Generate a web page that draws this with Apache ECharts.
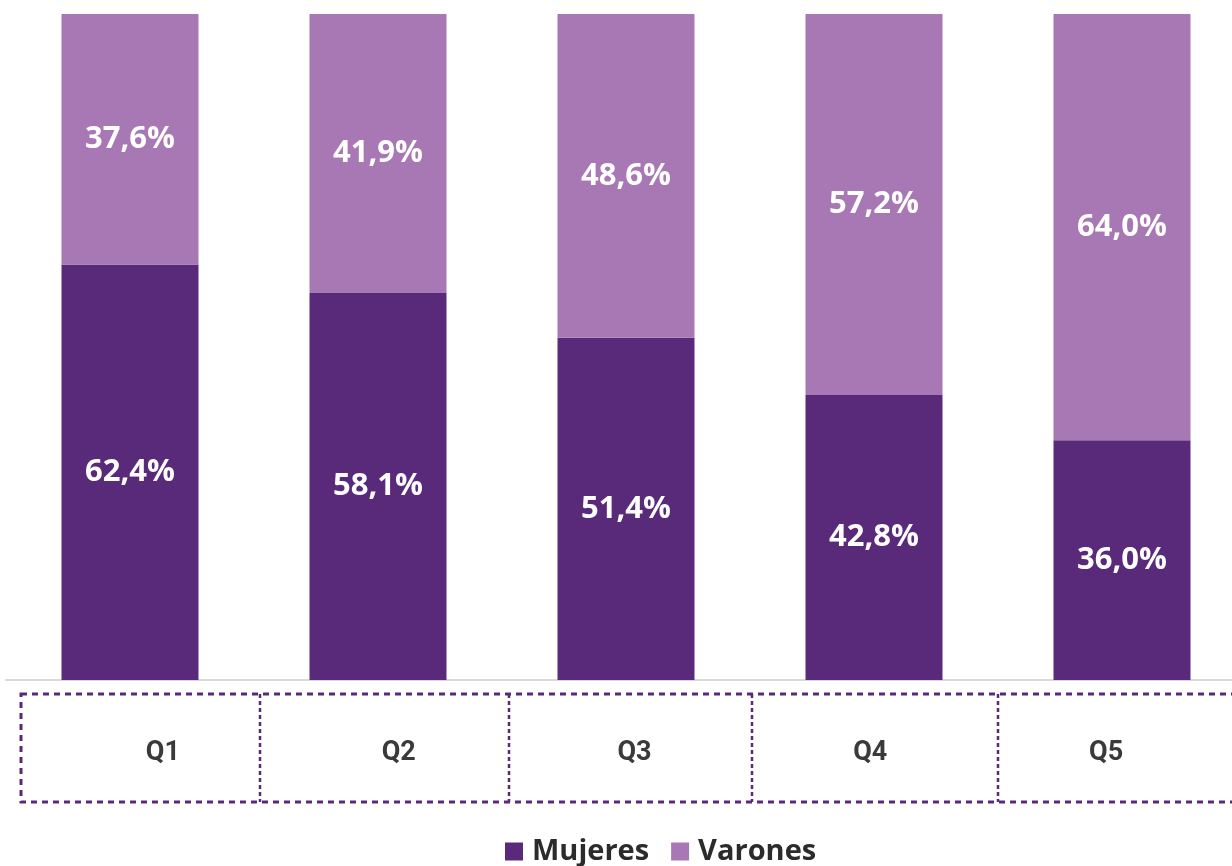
<!DOCTYPE html>
<html style="height: 100%;">
  <head>
    <meta charset="utf-8" />
    <script src="https://cdn.jsdelivr.net/npm/echarts/dist/echarts.min.js"></script>
  </head>
  <body style="height: 100%; margin: 0;">
    <div id="container" style="width: 1232px; height: 866px;"></div>
    <script type="text/javascript">
      var categories = ["Q1", "Q2", "Q3", "Q4", "Q5"];
      var mujeres = [62.4, 58.1, 51.4, 42.8, 36.0];
      var varones = [37.6, 41.9, 48.6, 57.2, 64.0];

      var dark = "#5a2a7a";
      var light = "#a878b5";
      var fontFam = "'Open Sans', sans-serif";

      function fmt(p) {
        return p.value.toFixed(1).replace(".", ",") + "%";
      }

      var labelStyle = {
        show: true,
        position: "inside",
        color: "#fff",
        fontSize: 31,
        fontWeight: "bold",
        fontFamily: fontFam,
        formatter: fmt,
      };

      var myChart = echarts.init(document.getElementById("container"));
      var option = {
        animation: false,
        legend: {
          top: 832,
          left: 500,
          icon: "rect",
          itemWidth: 18,
          itemHeight: 18,
          itemGap: 22,
          textStyle: {
            fontSize: 29,
            fontWeight: "bold",
            fontFamily: fontFam,
            color: "#2b2b2b",
            padding: [0, 0, 0, 4],
          },
          data: ["Mujeres", "Varones"],
        },
        grid: [
          { left: 6, width: 1240, top: 14, bottom: 186, outerBoundsMode: "none" },
          { left: 45, width: 1179, top: 700, height: 100, outerBoundsMode: "none" },
        ],
        xAxis: [
          {
            type: "category",
            gridIndex: 0,
            data: categories,
            axisLine: { lineStyle: { color: "#d9d9d9", width: 2 } },
            axisTick: { show: false },
            axisLabel: { show: false },
          },
          {
            type: "category",
            gridIndex: 1,
            position: "top",
            data: categories,
            axisLine: { show: false },
            axisTick: { show: false },
            axisLabel: {
              margin: -67,
              fontSize: 27,
              fontWeight: "bold",
              fontFamily: "Roboto, sans-serif",
              color: "#3a3a3a",
            },
          },
        ],
        yAxis: [
          { type: "value", gridIndex: 0, min: 0, max: 100, show: false },
          { type: "value", gridIndex: 1, show: false },
        ],
        graphic: [
          {
            type: "rect",
            shape: { x: 21, y: 694, width: 1230, height: 108 },
            style: { fill: "none", stroke: dark, lineWidth: 3, lineDash: [6, 5] },
          },
          {
            type: "group",
            children: [260, 509, 752, 998].map(function (x) {
              return {
                type: "line",
                shape: { x1: x, y1: 694, x2: x, y2: 802 },
                style: { stroke: dark, lineWidth: 2.5, lineDash: [4, 3] },
              };
            }),
          },
        ],
        series: [
          {
            name: "Mujeres",
            type: "bar",
            stack: "total",
            barWidth: 137,
            itemStyle: { color: dark },
            label: labelStyle,
            data: mujeres,
          },
          {
            name: "Varones",
            type: "bar",
            stack: "total",
            barWidth: 137,
            itemStyle: { color: light },
            label: labelStyle,
            data: varones,
          },
        ],
      };
      myChart.setOption(option);
    </script>
  </body>
</html>
